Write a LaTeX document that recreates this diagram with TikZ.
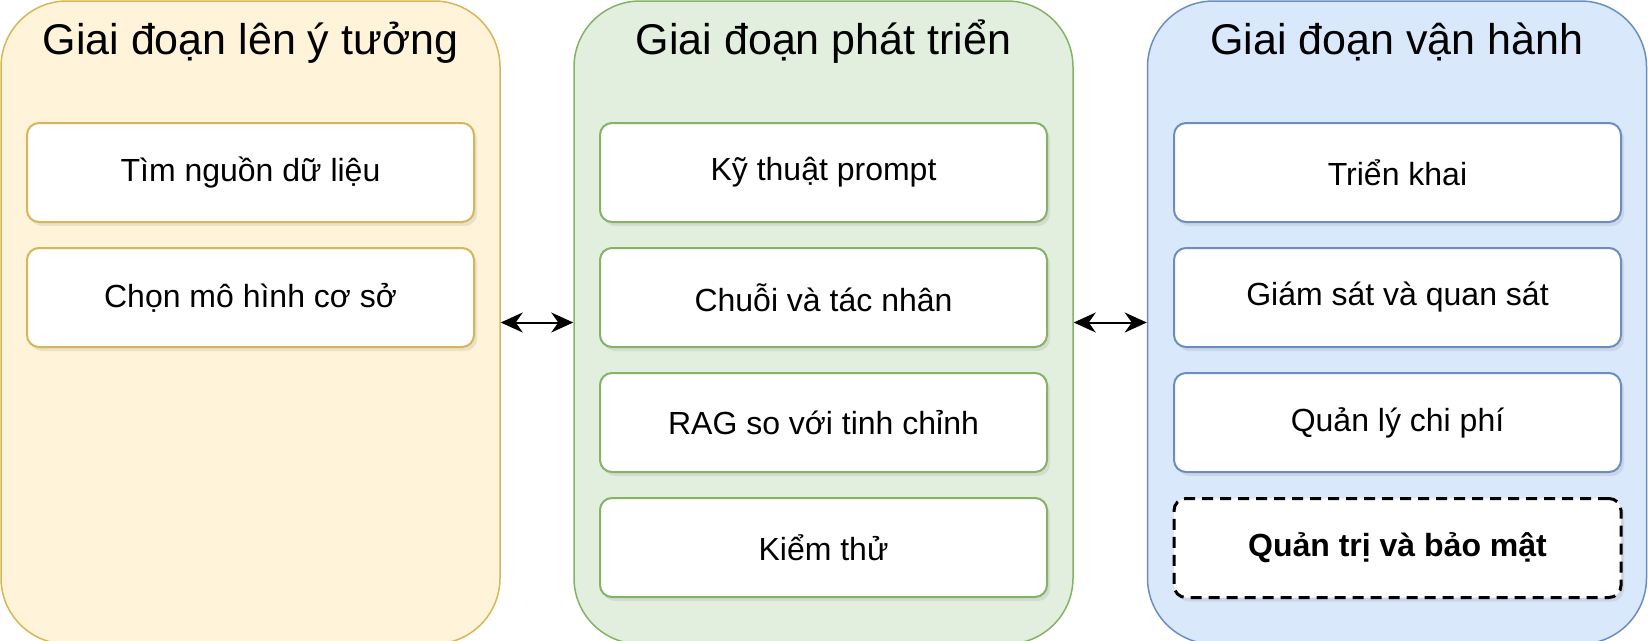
\documentclass[tikz,border=0pt]{standalone}
\usepackage{fontspec}
\setmainfont{Liberation Sans}
\usetikzlibrary{positioning,shadows,arrows.meta}

\definecolor{ideafill}{HTML}{FFF4D9}
\definecolor{ideadraw}{HTML}{D6B656}
\definecolor{devfill}{HTML}{E2EFDF}
\definecolor{devdraw}{HTML}{82B366}
\definecolor{opsfill}{HTML}{DAE8FC}
\definecolor{opsdraw}{HTML}{6C8EBF}

\begin{document}
\begin{tikzpicture}[x=1pt,y=-1pt,>={Stealth[length=22pt,width=20pt,inset=7pt]},
		phase/.style={draw,rounded corners=66pt,line width=1.5pt,minimum width=499pt,minimum height=643pt,inner sep=0pt},
		title/.style={anchor=base,font=\fontsize{43}{50}\selectfont},
		task/.style={draw,fill=white,rounded corners=12pt,line width=2pt,minimum width=447pt,minimum height=99pt,inner sep=0pt,
			font=\fontsize{32}{38}\selectfont,drop shadow={opacity=0.16,shadow xshift=3pt,shadow yshift=-4pt}}]
		\useasboundingbox (0,0) rectangle (1648,640);
		
		% phases
		\node[phase,fill=ideafill,draw=ideadraw] (idea) at (250.5,322.5) {};
		\node[phase,fill=devfill,draw=devdraw] (dev) at (823.5,322.5) {};
		\node[phase,fill=opsfill,draw=opsdraw] (ops) at (1397,322.5) {};
		\node[title] (ideatitle) at (250.5,54) {Giai đoạn lên ý tưởng};
		\node[title] (devtitle) at (823.5,54) {Giai đoạn phát triển};
		\node[title] (opstitle) at (1397,54) {Giai đoạn vận hành};
		
		% ideation
		\node[task,draw=ideadraw] (i1) at (250.5,172.5) {Tìm nguồn dữ liệu};
		\node[task,draw=ideadraw] (i2) [below=24pt of i1] {Chọn mô hình cơ sở};
		
		% development
		\node[task,draw=devdraw] (d1) at (823.5,172.5) {Kỹ thuật prompt};
		\node[task,draw=devdraw] (d2) [below=24pt of d1] {Chuỗi và tác nhân};
		\node[task,draw=devdraw] (d3) [below=24pt of d2] {RAG so với tinh chỉnh};
		\node[task,draw=devdraw] (d4) [below=24pt of d3] {Kiểm thử};
		
		% operations
		\node[task,draw=opsdraw] (o1) at (1397.5,172.5) {Triển khai};
		\node[task,draw=opsdraw] (o2) [below=24pt of o1] {Giám sát và quan sát};
		\node[task,draw=opsdraw] (o3) [below=24pt of o2] {Quản lý chi phí};
		\node[task,draw=black,line width=3pt,dash pattern=on 11pt off 7pt,
			font=\fontsize{32}{38}\selectfont\bfseries] (o4) [below=24pt of o3] {Quản trị và bảo mật};
		
		\draw[<->,line width=2pt] (idea) -- (dev);
		\draw[<->,line width=2pt] (dev) -- (ops);
\end{tikzpicture}
\end{document}
